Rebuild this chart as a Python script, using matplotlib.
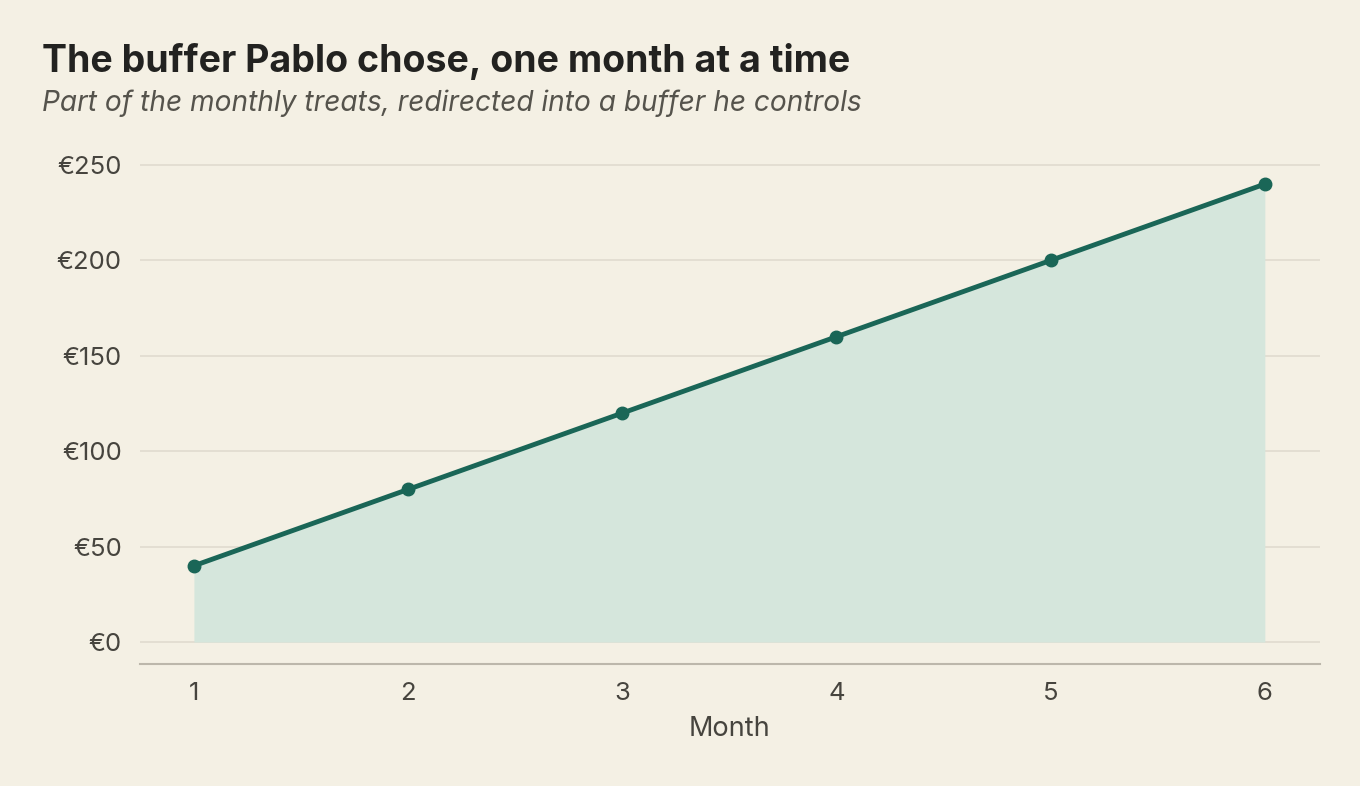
import matplotlib.pyplot as plt
from matplotlib.ticker import FuncFormatter

months = [1, 2, 3, 4, 5, 6]
buffer_eur = [40, 80, 120, 160, 200, 240]
y_ticks = [0, 50, 100, 150, 200, 250]

bg = '#f4f0e4'
teal = '#1a6657'

plt.rcParams['font.family'] = ['Inter', 'DejaVu Sans']

fig = plt.figure(figsize=(13.6, 7.86), dpi=100, facecolor=bg)
ax = fig.add_axes([0.1029, 0.1552, 0.8676, 0.6543], facecolor=bg)

ax.fill_between(months, buffer_eur, 0, color='#d5e6dc', linewidth=0, zorder=1)
ax.plot(months, buffer_eur, color=teal, linewidth=3.5, marker='o', markersize=9, zorder=3)

ax.set_xlim(0.748, 6.257)
ax.set_ylim(-11.5, 258)
ax.set_yticks(y_ticks)
ax.set_xticks(months)
ax.yaxis.set_major_formatter(FuncFormatter(lambda v, p: f'€{v:.0f}'))
ax.grid(axis='y', color='#e2ddd1', linewidth=1.3, zorder=0)
ax.set_axisbelow(True)

for s in ['top', 'right', 'left']:
    ax.spines[s].set_visible(False)
ax.spines['bottom'].set_color('#bcb7ab')
ax.spines['bottom'].set_linewidth(1.5)
ax.tick_params(axis='both', length=0, labelsize=18.5, labelcolor='#46443e')
ax.tick_params(axis='x', pad=13)
ax.tick_params(axis='y', pad=13)
ax.set_xlabel('Month', fontsize=19.5, color='#46443e', labelpad=8)

fig.text(0.031, 0.908, 'The buffer Pablo chose, one month at a time', fontsize=27,
         fontweight='bold', color='#222220', va='baseline')
fig.text(0.031, 0.859, 'Part of the monthly treats, redirected into a buffer he controls',
         fontsize=20.2, style='italic', color='#55534c', va='baseline')

fig.savefig('out.png', dpi=100, facecolor=bg)
